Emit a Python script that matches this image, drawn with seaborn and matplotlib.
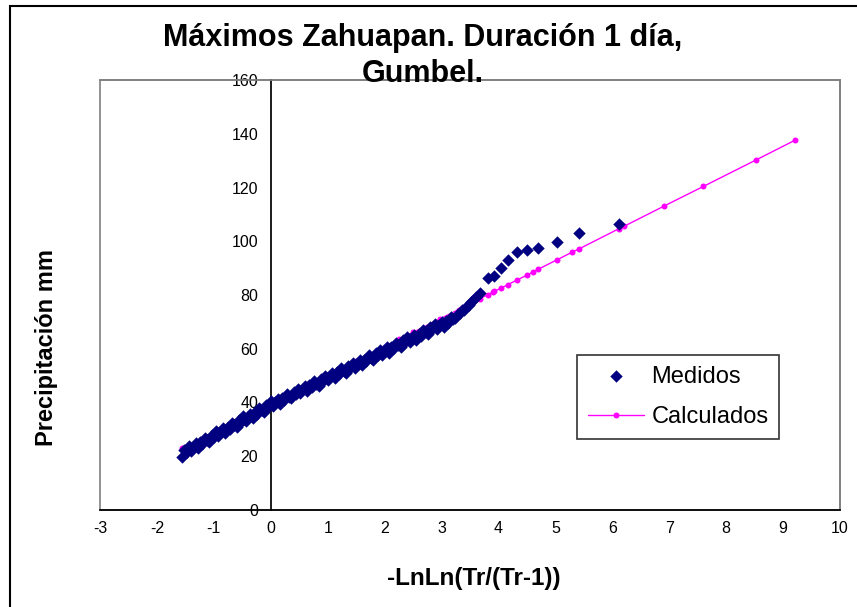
import matplotlib
matplotlib.use("Agg")
import matplotlib.pyplot as plt
from matplotlib.patches import Rectangle
import seaborn as sns
import pandas as pd

# Medidos: reduced variate -LnLn(Tr/(Tr-1)) and precipitation (mm)
x_medidos = [-1.56, -1.52, -1.48, -1.44, -1.40, -1.36, -1.32, -1.28, -1.24, -1.20,
             -1.16, -1.12, -1.08, -1.04, -1.00, -0.96, -0.92, -0.88, -0.84, -0.80,
             -0.76, -0.72, -0.68, -0.64, -0.60, -0.56, -0.52, -0.48, -0.44, -0.40,
             -0.36, -0.32, -0.28, -0.24, -0.20, -0.16, -0.12, -0.08, -0.04, 0.00,
             0.04, 0.08, 0.12, 0.16, 0.20, 0.24, 0.28, 0.32, 0.36, 0.40,
             0.44, 0.48, 0.52, 0.56, 0.60, 0.64, 0.68, 0.72, 0.76, 0.80,
             0.84, 0.88, 0.92, 0.96, 1.00, 1.04, 1.08, 1.12, 1.16, 1.20,
             1.24, 1.28, 1.32, 1.36, 1.40, 1.44, 1.48, 1.52, 1.56, 1.60,
             1.64, 1.68, 1.72, 1.76, 1.80, 1.84, 1.88, 1.92, 1.96, 2.00,
             2.04, 2.08, 2.12, 2.16, 2.20, 2.24, 2.28, 2.32, 2.36, 2.40,
             2.44, 2.48, 2.52, 2.56, 2.60, 2.64, 2.68, 2.72, 2.76, 2.80,
             2.84, 2.88, 2.92, 2.96, 3.00, 3.04, 3.08, 3.12, 3.16, 3.20,
             3.24, 3.28, 3.32, 3.36, 3.40, 3.44, 3.48, 3.52, 3.56, 3.60,
             3.67, 3.81, 3.93, 4.05, 4.16, 4.32, 4.51, 4.70, 5.02, 5.42, 6.12]
y_medidos = [19.8, 22.4, 21.6, 23.7, 22.0, 23.5, 24.8, 23.0, 25.2, 24.6,
             26.8, 26.0, 25.4, 27.9, 27.2, 29.3, 27.5, 29.1, 30.4, 28.5,
             30.8, 30.1, 32.4, 31.6, 30.9, 33.5, 32.8, 34.8, 33.1, 34.7,
             35.9, 34.1, 36.4, 35.7, 38.0, 37.1, 36.5, 39.1, 38.3, 40.4,
             38.6, 40.1, 41.3, 39.4, 41.6, 40.9, 43.1, 42.2, 41.5, 44.0,
             43.2, 45.2, 43.4, 44.9, 46.1, 44.2, 46.4, 45.7, 47.9, 47.0,
             46.3, 48.8, 48.0, 50.0, 48.2, 49.7, 50.9, 49.0, 51.2, 50.5,
             52.7, 51.8, 51.1, 53.6, 52.8, 54.8, 53.0, 54.5, 55.7, 53.8,
             56.0, 55.3, 57.5, 56.6, 55.9, 58.4, 57.6, 59.6, 57.8, 59.3,
             60.5, 58.6, 60.8, 60.1, 62.3, 61.4, 60.7, 63.2, 62.4, 64.4,
             62.6, 64.1, 65.3, 63.4, 65.6, 64.9, 67.1, 66.2, 65.5, 68.0,
             67.2, 69.2, 67.4, 68.9, 70.1, 68.2, 70.4, 69.7, 71.9, 71.0,
             71.4, 72.7, 73.3, 74.3, 74.5, 75.9, 76.3, 77.4, 78.0, 79.3,
             80.7, 86.3, 87.1, 90.0, 93.0, 96.0, 96.7, 97.5, 99.7, 103.1, 106.4]

# Calculados (Gumbel fit)
x_calculados = [-1.56, -1.00, -0.50, 0.00, 0.37, 1.00, 1.50, 2.00, 2.25, 2.50,
                2.97, 3.30, 3.67, 3.81, 3.90, 3.93, 4.05, 4.16, 4.32, 4.51,
                4.60, 4.70, 5.02, 5.30, 5.42, 6.12, 6.21, 6.91, 7.60, 8.52, 9.21]
y_calculados = [22.9, 28.9, 34.2, 39.5, 43.4, 50.2, 55.5, 60.8, 63.5, 66.1,
                71.1, 74.6, 78.6, 80.1, 81.0, 81.4, 82.6, 83.8, 85.5, 87.5,
                88.5, 89.6, 93.0, 96.0, 97.2, 104.7, 105.6, 113.1, 120.4, 130.2, 137.6]

x_ticks = list(range(-3, 11))
y_ticks = list(range(0, 161, 20))

df_med = pd.DataFrame({'x': x_medidos, 'y': y_medidos})
df_cal = pd.DataFrame({'x': x_calculados, 'y': y_calculados})

sns.set_theme(style="white")
plt.rcParams['font.family'] = ['Liberation Sans', 'DejaVu Sans']
plt.rcParams['axes.unicode_minus'] = False
plt.rcParams['text.color'] = '#000000'

fig = plt.figure(figsize=(8.57, 6.07), dpi=100)
ax = fig.add_axes([100 / 857, 1 - 510 / 607, 740 / 857, 430 / 607])

# calculated line first so the diamonds sit on top of it
sns.lineplot(data=df_cal, x='x', y='y', ax=ax, color='#FF00FF', linewidth=1.0,
             marker='o', markersize=4.3, markeredgewidth=0, sort=False,
             estimator=None, label='Calculados', zorder=2)
sns.scatterplot(data=df_med, x='x', y='y', ax=ax, color='#000080', marker='D',
                s=40, linewidth=0, label='Medidos', zorder=3)

ax.set_xlim(-3, 10)
ax.set_ylim(0, 160)
ax.set_xticks(x_ticks)
ax.set_yticks(y_ticks)
ax.tick_params(axis='both', labelsize=11.5, colors='#000000', length=5,
               direction='out', width=1, pad=3)
ax.tick_params(axis='y', pad=4)

# Excel style: y axis crosses at x = 0, plot area framed in grey
ax.spines['left'].set_position(('data', 0))
ax.spines['left'].set_color('#000000')
ax.spines['bottom'].set_color('#000000')
for side in ['top', 'right']:
    ax.spines[side].set_color('#808080')
ax.add_patch(Rectangle((0, 0), 1, 1, transform=ax.transAxes, fill=False,
                       edgecolor='#808080', linewidth=1.2, zorder=0, clip_on=False))

ax.set_xlabel('')
ax.set_ylabel('')
fig.text(474 / 857, 1 - 578 / 607, '-LnLn(Tr/(Tr-1))', ha='center', va='center',
         fontsize=17.5, fontweight='bold')
fig.text(47 / 857, 1 - 347 / 607, 'Precipitación mm', ha='center', va='center',
         rotation=90, fontsize=17, fontweight='bold')

# two-line title, second line sits on the plot area frame like the original
fig.text(423 / 857, 1 - 38 / 607, 'Máximos Zahuapan. Duración 1 día,',
         ha='center', va='center', fontsize=22, fontweight='bold')
fig.text(423 / 857, 1 - 74 / 607, 'Gumbel.',
         ha='center', va='center', fontsize=22, fontweight='bold')

handles, labels = ax.get_legend_handles_labels()
order = [labels.index('Medidos'), labels.index('Calculados')]
leg = ax.legend([handles[i] for i in order], [labels[i] for i in order],
                loc='upper left', bbox_to_anchor=(0.645, 0.36), borderaxespad=0,
                fontsize=17, frameon=True, fancybox=False, edgecolor='#000000',
                borderpad=0.44, labelspacing=0.8, handlelength=2.4,
                handletextpad=0.3)
leg.get_frame().set_linewidth(1.2)

# chart area border
fig.patches.append(Rectangle((10 / 857, -0.05), 1.0, 1 - 6 / 607 + 0.05,
                             transform=fig.transFigure, fill=False,
                             edgecolor='#000000', linewidth=1.5))

fig.savefig('out.png', dpi=100)
